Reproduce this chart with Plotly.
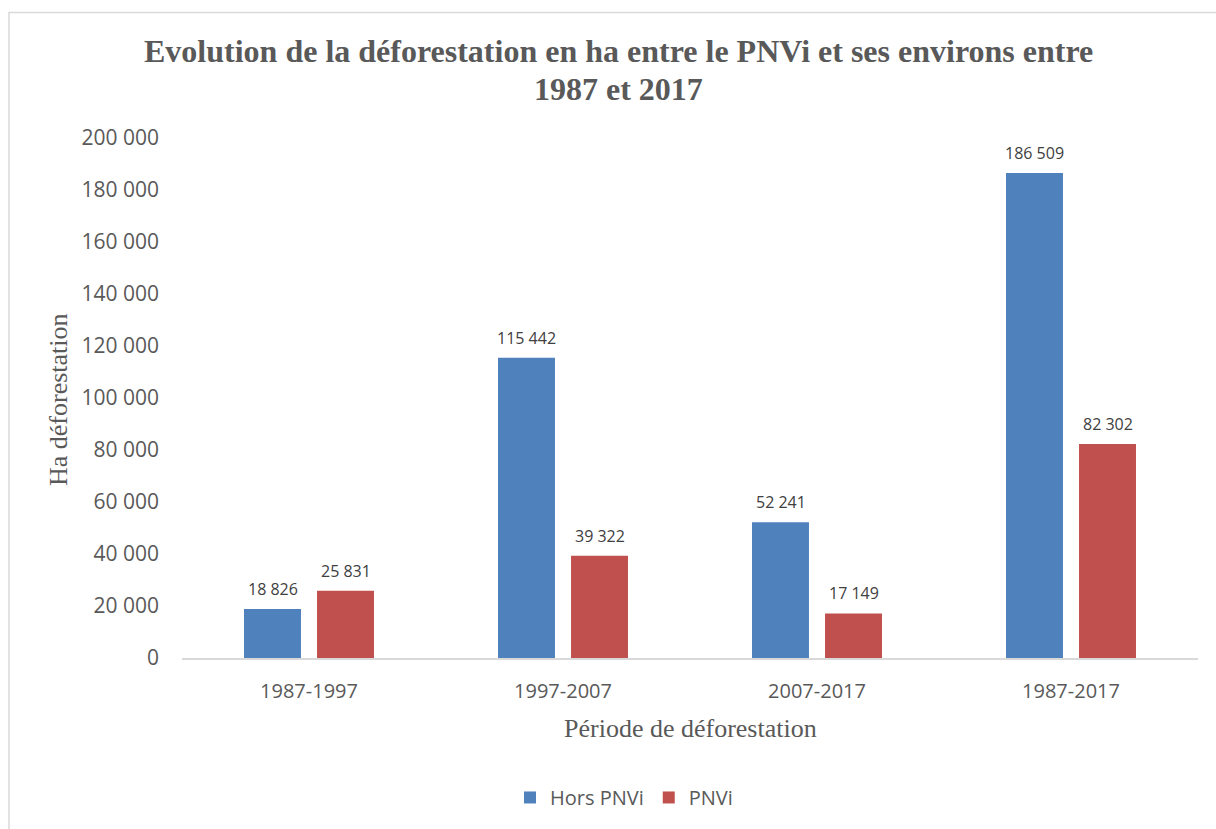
import plotly.graph_objects as go

periods = ["1987-1997", "1997-2007", "2007-2017", "1987-2017"]
hors_pnvi = [18826, 115442, 52241, 186509]
pnvi = [25831, 39322, 17149, 82302]
series_names = ["Hors PNVi", "PNVi"]
series_colors = ["#4F81BD", "#C0504D"]
title_lines = [
    "Evolution de la déforestation en ha entre le PNVi et ses environs entre",
    "1987 et 2017",
]

W, H = 1216, 829
L, R, T, B = 182, 18, 138, 169
plot_w = W - L - R
plot_h = H - T - B


def fmt(v):
    return f"{v:,}".replace(",", " ")


def px_x(x):
    return (x - L) / plot_w


def px_y(y):
    return (H - B - y) / plot_h


fig = go.Figure()
for name, vals, col in zip(series_names, [hors_pnvi, pnvi], series_colors):
    fig.add_trace(go.Bar(
        x=periods, y=vals, name=name,
        marker=dict(color=col, line=dict(width=0)),
        hoverinfo="skip",
    ))

# value labels above each bar
annotations = []
for i, (name, vals) in enumerate(zip(series_names, [hors_pnvi, pnvi])):
    for j, (p, v) in enumerate(zip(periods, vals)):
        annotations.append(dict(
            x=p, y=v, xref="x", yref="y", text=fmt(v), showarrow=False,
            xanchor="center", yanchor="bottom", yshift=7,
            xshift=(-36.5 if i == 0 else 36.5),
            font=dict(family="Open Sans", size=16, color="#404040"),
        ))

# two-line bold title
for line, yc in zip(title_lines, [51, 89]):
    annotations.append(dict(
        x=px_x(618), y=px_y(yc), xref="paper", yref="paper",
        text=f"<b>{line}</b>", showarrow=False,
        xanchor="center", yanchor="middle",
        font=dict(family="Liberation Serif", size=32, color="#595959"),
    ))

annotations.append(dict(
    x=px_x(690), y=px_y(731), xref="paper", yref="paper",
    text="Période de déforestation", showarrow=False,
    xanchor="center", yanchor="middle",
    font=dict(family="Liberation Serif", size=26, color="#595959"),
))
annotations.append(dict(
    x=px_x(59), y=px_y(401), xref="paper", yref="paper",
    text="Ha déforestation", showarrow=False, textangle=-90,
    xanchor="center", yanchor="middle",
    font=dict(family="Liberation Serif", size=26, color="#595959"),
))

fig.update_layout(
    width=W, height=H,
    margin=dict(l=L, r=R, t=T, b=B),
    paper_bgcolor="white", plot_bgcolor="white",
    separators=", ",
    barmode="group", bargap=0.425, bargroupgap=0.22,
    xaxis=dict(
        showgrid=False, showline=True, linecolor="#D9D9D9", linewidth=2,
        ticks="", ticklabelstandoff=14,
        tickfont=dict(family="Open Sans", size=20, color="#595959"),
    ),
    yaxis=dict(
        range=[0, 200000], dtick=20000, tickformat=",d",
        showgrid=False, zeroline=False, showline=False, ticks="",
        ticklabelstandoff=22,
        tickfont=dict(family="Open Sans", size=21, color="#595959"),
    ),
    legend=dict(
        orientation="h", x=px_x(624), y=px_y(800),
        xanchor="center", yanchor="middle",
        font=dict(family="Open Sans", size=20, color="#595959"),
        itemwidth=30, traceorder="normal",
    ),
    annotations=annotations,
    shapes=[dict(
        type="rect", xref="paper", yref="paper",
        x0=px_x(9), x1=px_x(W + 40), y0=px_y(H + 40), y1=px_y(12),
        line=dict(color="#D9D9D9", width=1.5), fillcolor="rgba(0,0,0,0)",
        layer="below",
    )],
)

fig.write_html("out.html")
